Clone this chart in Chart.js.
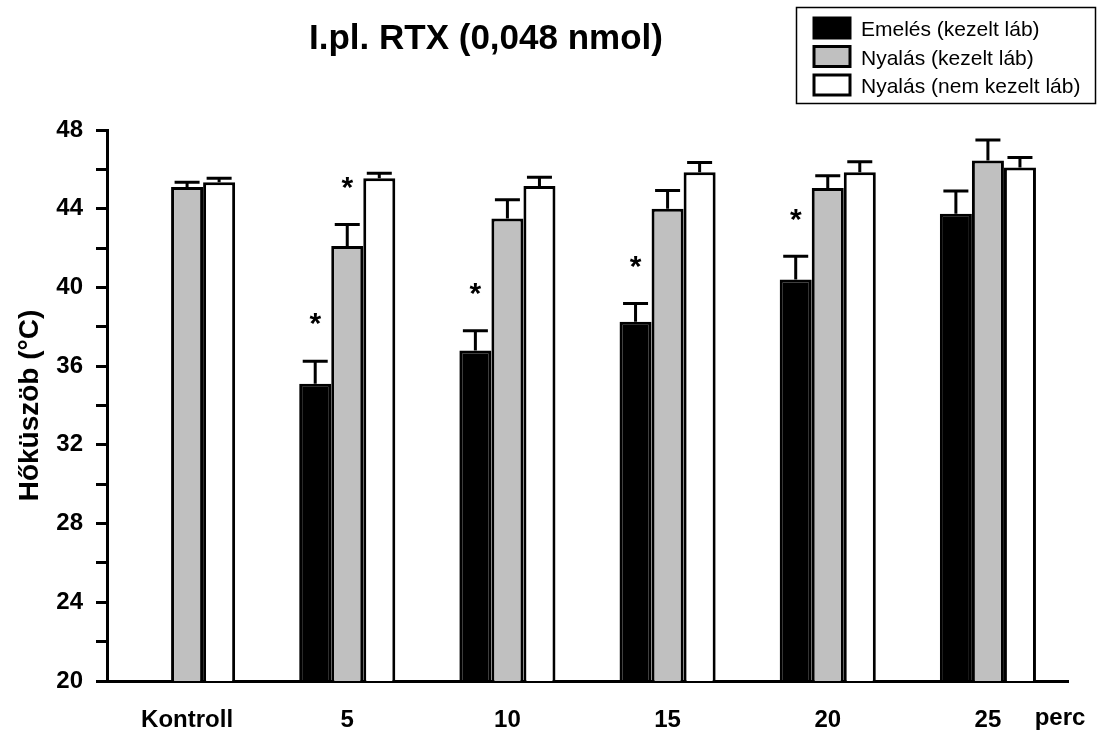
<!DOCTYPE html>
<html>
<head>
<meta charset="utf-8">
<script src="https://cdn.jsdelivr.net/npm/chart.js@4.4.0/dist/chart.umd.min.js"></script>
<style>
  html, body { margin: 0; padding: 0; background: #fff; }
  #wrap { width: 1100px; height: 731px; position: relative; }
</style>
</head>
<body>
<div id="wrap"><canvas id="chart" width="1100" height="731"></canvas></div>
<script>
// ============================
// DATA
// ============================
const categories = ["Kontroll", "5", "10", "15", "20", "25"];
const seriesNames = ["Emelés (kezelt láb)", "Nyalás (kezelt láb)", "Nyalás (nem kezelt láb)"];

const emeles = [null, 35.1, 36.8, 38.25, 40.4, 43.75];
const emelesErr = [null, 1.15, 1.0, 0.93, 1.18, 1.15];
const emelesStar = [false, true, true, true, true, false];

const nyalasKezelt = [45.1, 42.1, 43.5, 44.0, 45.05, 46.45];
const nyalasKezeltErr = [0.25, 1.1, 0.95, 0.93, 0.63, 1.04];
const nyalasKezeltStar = [false, true, false, false, false, false];

const nyalasNem = [45.35, 45.55, 45.15, 45.85, 45.85, 46.1];
const nyalasNemErr = [0.2, 0.25, 0.45, 0.5, 0.54, 0.5];
const nyalasNemStar = [false, false, false, false, false, false];

const yTicks = [20, 24, 28, 32, 36, 40, 44, 48];

const FONT = "'Liberation Sans', Arial, sans-serif";

// ============================
// PLUGINS
// ============================
// upper error bars + significance stars
const errorBars = {
  id: "errorBars",
  afterDatasetsDraw(chart) {
    const ctx = chart.ctx;
    const y = chart.scales.y;
    chart.data.datasets.forEach((ds, i) => {
      const meta = chart.getDatasetMeta(i);
      meta.data.forEach((bar, j) => {
        const v = ds.data[j];
        if (v == null) return;
        const top = y.getPixelForValue(v + ds.err[j]);
        ctx.save();
        ctx.strokeStyle = "#000";
        ctx.lineWidth = 3;
        ctx.beginPath();
        ctx.moveTo(bar.x, bar.y);
        ctx.lineTo(bar.x, top);
        ctx.moveTo(bar.x - 12.5, top);
        ctx.lineTo(bar.x + 12.5, top);
        ctx.stroke();
        if (ds.star[j]) {
          ctx.fillStyle = "#000";
          ctx.font = "bold 30px " + FONT;
          ctx.textAlign = "center";
          ctx.textBaseline = "middle";
          ctx.fillText("*", bar.x, top - 36);
        }
        ctx.restore();
      });
    });
  }
};

// title, "perc" unit and boxed legend
const extras = {
  id: "extras",
  afterDraw(chart) {
    const ctx = chart.ctx;
    ctx.save();
    ctx.fillStyle = "#000";
    ctx.font = "bold 35px " + FONT;
    ctx.textAlign = "center";
    ctx.textBaseline = "alphabetic";
    ctx.fillText("I.pl. RTX (0,048 nmol)", 486, 49);

    ctx.font = "bold 24px " + FONT;
    ctx.textBaseline = "middle";
    ctx.fillText("perc", 1060, 718);

    ctx.lineWidth = 1.5;
    ctx.strokeStyle = "#000";
    ctx.strokeRect(796.5, 7.5, 299, 96);
    ctx.font = "21px " + FONT;
    ctx.textAlign = "left";
    ctx.textBaseline = "alphabetic";
    chart.data.datasets.forEach((ds, i) => {
      const top = 18 + i * 28.5;
      ctx.fillStyle = ds.backgroundColor;
      ctx.fillRect(814, top, 36, 20);
      ctx.lineWidth = 3;
      ctx.strokeRect(814, top, 36, 20);
      ctx.fillStyle = "#000";
      ctx.fillText(ds.label, 861, top + 18);
    });
    ctx.restore();
  }
};

// ============================
// CHART
// ============================
const makeSet = (label, data, err, star, color) => ({
  label, data, err, star,
  backgroundColor: color,
  borderColor: "#000",
  borderWidth: 3,
  borderSkipped: false,
  categoryPercentage: 0.6,
  barPercentage: 1.0
});

new Chart(document.getElementById("chart"), {
  type: "bar",
  data: {
    labels: categories,
    datasets: [
      makeSet(seriesNames[0], emeles, emelesErr, emelesStar, "#000000"),
      makeSet(seriesNames[1], nyalasKezelt, nyalasKezeltErr, nyalasKezeltStar, "#c0c0c0"),
      makeSet(seriesNames[2], nyalasNem, nyalasNemErr, nyalasNemStar, "#ffffff")
    ]
  },
  options: {
    responsive: false,
    animation: false,
    layout: { padding: { top: 130, right: 32, bottom: 0, left: 0 } },
    plugins: {
      legend: { display: false },
      tooltip: { enabled: false },
      title: { display: false }
    },
    scales: {
      x: {
        grid: { display: false, drawTicks: false },
        border: { display: true, color: "#000", width: 3 },
        ticks: {
          color: "#000",
          font: { family: FONT, size: 24, weight: "bold" },
          padding: 25
        },
        afterFit(scale) { scale.height = 50; }
      },
      y: {
        min: 20,
        max: 48,
        grid: { drawOnChartArea: false, drawTicks: true, tickLength: 11, tickColor: "#000", tickWidth: 3 },
        border: { display: true, color: "#000", width: 3 },
        ticks: {
          stepSize: 2,
          color: "#000",
          padding: 13,
          font: { family: FONT, size: 24, weight: "bold" },
          callback: v => yTicks.includes(v) ? String(v) : ""
        },
        title: {
          display: true,
          text: "Hőküszöb (°C)",
          color: "#000",
          font: { family: FONT, size: 28, weight: "bold" },
          padding: { top: 13, bottom: 0 }
        },
        afterFit(scale) { scale.width = 107; }
      }
    }
  },
  plugins: [errorBars, extras]
});
</script>
</body>
</html>
